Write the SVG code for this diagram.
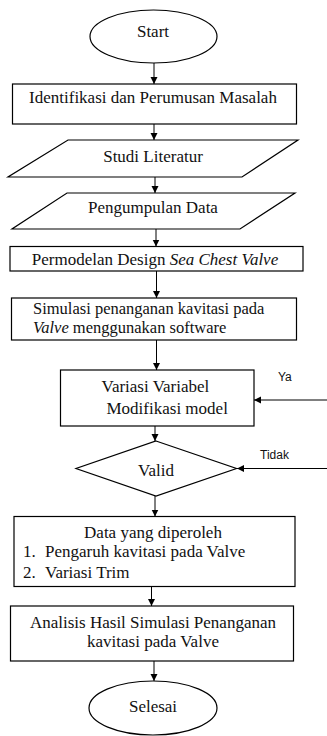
<svg xmlns="http://www.w3.org/2000/svg" width="327" height="736" viewBox="0 0 327 736">
  <defs>
    <marker id="arrow" markerUnits="userSpaceOnUse" markerWidth="8" markerHeight="8" refX="7" refY="3.5" orient="auto">
      <path d="M0,0 L7,3.5 L0,7 Z" fill="#000"/>
    </marker>
    <style>
      .shape { fill: #fff; stroke: #000; stroke-width: 1.2; }
      .lbl { font-family: "Liberation Serif", "Times New Roman", serif; font-size: 17px; fill: #111; }
      .tight { font-size: 16.5px; }
      .mid { text-anchor: middle; }
      .it { font-style: italic; }
      .note { font-family: "Liberation Sans", Arial, sans-serif; font-size: 12px; fill: #111; }
      .conn { stroke: #000; stroke-width: 1; fill: none; marker-end: url(#arrow); }
    </style>
  </defs>
  <rect width="327" height="736" fill="#fff"/>

  <g id="connectors">
    <line class="conn" x1="154" y1="63" x2="154" y2="84"/>
    <line class="conn" x1="154" y1="124" x2="154" y2="140"/>
    <line class="conn" x1="155" y1="177" x2="155" y2="193"/>
    <line class="conn" x1="156" y1="229" x2="156" y2="246.5"/>
    <line class="conn" x1="156.5" y1="271" x2="156.5" y2="298"/>
    <line class="conn" x1="156.5" y1="340" x2="156.5" y2="370"/>
    <line class="conn" x1="155" y1="426" x2="155" y2="441"/>
    <line class="conn" x1="155" y1="496" x2="155" y2="516.5"/>
    <line class="conn" x1="151.5" y1="586.5" x2="151.5" y2="606"/>
    <line class="conn" x1="154" y1="661" x2="154" y2="681"/>
    <line class="conn" x1="327" y1="400" x2="254" y2="400"/>
    <line class="conn" x1="327" y1="468.5" x2="237" y2="468.5"/>
  </g>

  <g id="start">
    <ellipse class="shape" cx="153.5" cy="36.5" rx="63.5" ry="26.5"/>
    <text class="lbl mid" x="153" y="37">Start</text>
  </g>

  <g id="identifikasi">
    <rect class="shape" x="12.5" y="84" width="284" height="40"/>
    <text class="lbl mid" x="153" y="103">Identifikasi dan Perumusan Masalah</text>
  </g>

  <g id="studi-literatur">
    <polygon class="shape" points="68,140 298,140 242,177 8,177"/>
    <text class="lbl mid" x="153" y="162">Studi Literatur</text>
  </g>

  <g id="pengumpulan-data">
    <polygon class="shape" points="67,193 295,193 240,229 12,229"/>
    <text class="lbl mid" x="153" y="213">Pengumpulan Data</text>
  </g>

  <g id="permodelan">
    <rect class="shape" x="10" y="246.5" width="293" height="24.5"/>
    <text class="lbl mid" x="155" y="265">Permodelan Design <tspan class="it">Sea Chest Valve</tspan></text>
  </g>

  <g id="simulasi">
    <rect class="shape" x="11.5" y="298" width="285" height="42"/>
    <text class="lbl tight" x="33" y="314">Simulasi penanganan kavitasi pada</text>
    <text class="lbl tight" x="33" y="332.5"><tspan class="it">Valve</tspan> menggunakan software</text>
  </g>

  <g id="variasi">
    <rect class="shape" x="60.5" y="370" width="193.5" height="56"/>
    <text class="lbl" x="101.5" y="392">Variasi Variabel</text>
    <text class="lbl" x="106.5" y="413.5">Modifikasi model</text>
  </g>

  <g id="valid">
    <polygon class="shape" points="156,441 236.5,468.5 156,496 76,468.5"/>
    <text class="lbl mid" x="156" y="476">Valid</text>
  </g>

  <g id="data-diperoleh">
    <rect class="shape" x="14" y="516.5" width="281" height="70"/>
    <text class="lbl mid" x="153" y="538">Data yang diperoleh</text>
    <text class="lbl" x="23" y="557">1.</text>
    <text class="lbl" x="45" y="557">Pengaruh kavitasi pada Valve</text>
    <text class="lbl" x="23" y="578">2.</text>
    <text class="lbl" x="45" y="578">Variasi Trim</text>
  </g>

  <g id="analisis">
    <rect class="shape" x="10.5" y="606" width="283" height="55"/>
    <text class="lbl mid" x="153" y="628">Analisis Hasil Simulasi Penanganan</text>
    <text class="lbl mid" x="153" y="647">kavitasi pada Valve</text>
  </g>

  <g id="selesai">
    <ellipse class="shape" cx="153" cy="708" rx="64" ry="27"/>
    <text class="lbl mid" x="153" y="712">Selesai</text>
  </g>

  <g id="branch-labels">
    <text class="note" x="278" y="381">Ya</text>
    <text class="note" x="260" y="459">Tidak</text>
  </g>
</svg>
